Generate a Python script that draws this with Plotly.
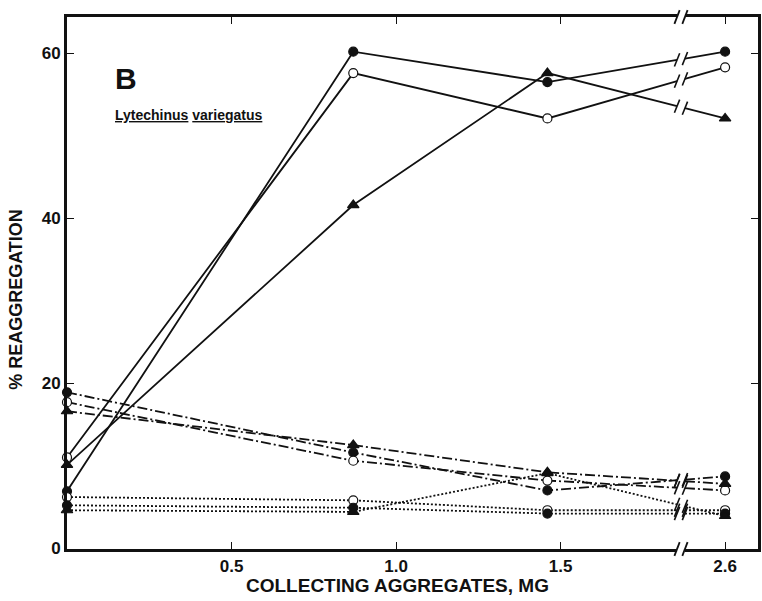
import plotly.graph_objects as go

# Amount of collecting aggregates (mg) at which reaggregation was measured
mg_values = [0.0, 0.87, 1.46, 2.6]

# % reaggregation, solid lines
solid_filled_circle = [6.9, 60.2, 56.5, 60.2]
solid_open_circle = [11.0, 57.6, 52.1, 58.3]
solid_triangle = [10.1, 41.6, 57.6, 52.1]

# % reaggregation, dash-dot lines
dashdot_filled_circle = [18.9, 11.6, 7.0, 8.7]
dashdot_open_circle = [17.7, 10.6, 8.2, 7.0]
dashdot_triangle = [16.6, 12.5, 9.2, 7.8]

# % reaggregation, dotted lines
dotted_open_circle = [6.2, 5.8, 4.6, 4.6]
dotted_filled_circle = [5.2, 4.9, 4.2, 4.2]
dotted_triangle = [4.6, 4.4, 9.1, 3.9]

x_tick_values = [0.5, 1.0, 1.5, 2.6]
y_tick_values = [0, 20, 40, 60]

# Broken x axis: the scale is linear up to the break, then jumps to 2.6
BREAK_POS = 1.866
BREAK_GAP = 0.012
AFTER_BREAK_START = 2.6
AFTER_BREAK_POS = 2.0


def axis_pos(v):
    if v <= 1.6:
        return v
    return AFTER_BREAK_POS + (v - AFTER_BREAK_START) * 0.5


FONT = "Liberation Sans"
BLACK = "#111111"
LINE_W = 1.8

series = [
    (solid_filled_circle, "solid", "circle"),
    (solid_open_circle, "solid", "circle-open"),
    (solid_triangle, "solid", "triangle-up"),
    (dashdot_filled_circle, "10px,3px,2px,3px", "circle"),
    (dashdot_open_circle, "10px,3px,2px,3px", "circle-open"),
    (dashdot_triangle, "10px,3px,2px,3px", "triangle-up"),
    (dotted_open_circle, "2px,2px", "circle-open"),
    (dotted_filled_circle, "2px,2px", "circle"),
    (dotted_triangle, "2px,2px", "triangle-up"),
]

fig = go.Figure()
shapes = []


def interp(x0, y0, x1, y1, x):
    return y0 + (y1 - y0) * (x - x0) / (x1 - x0)


SLASH_DX = 0.008
SLASH_DY = 0.8

for values, dash, symbol in series:
    xs = [axis_pos(v) for v in mg_values]
    # split the segment that crosses the axis break
    lx, ly = [], []
    for i, (x, y) in enumerate(zip(xs, values)):
        if i > 0 and xs[i - 1] < BREAK_POS < x:
            xa, xb = BREAK_POS - BREAK_GAP, BREAK_POS + BREAK_GAP
            ya = interp(xs[i - 1], values[i - 1], x, y, xa)
            yb = interp(xs[i - 1], values[i - 1], x, y, xb)
            lx += [xa, None, xb]
            ly += [ya, None, yb]
            for xm, ym in ((xa, ya), (xb, yb)):
                shapes.append(dict(type="line", xref="x", yref="y",
                                   x0=xm - SLASH_DX, y0=ym - SLASH_DY,
                                   x1=xm + SLASH_DX, y1=ym + SLASH_DY,
                                   line=dict(color=BLACK, width=1.6)))
        lx.append(x)
        ly.append(y)
    fig.add_trace(go.Scatter(
        x=lx, y=ly, mode="lines", showlegend=False, hoverinfo="skip",
        line=dict(color=BLACK, width=LINE_W, dash=dash),
    ))

for values, dash, symbol in series:
    xs = [axis_pos(v) for v in mg_values]
    is_open = symbol.endswith("open")
    fig.add_trace(go.Scatter(
        x=xs, y=values, mode="markers", showlegend=False, cliponaxis=False,
        marker=dict(
            symbol="circle" if is_open else symbol,
            size=10 if symbol.startswith("triangle") else 9,
            color="white" if is_open else BLACK,
            line=dict(color=BLACK, width=1.2),
        ),
    ))

# break marks on the bottom and top axis lines
for py in (0.0, 1.0):
    shapes.append(dict(type="line", xref="x", yref="paper",
                       x0=BREAK_POS - BREAK_GAP, x1=BREAK_POS + BREAK_GAP,
                       y0=py, y1=py, layer="above",
                       line=dict(color="white", width=6)))
    for xm in (BREAK_POS - BREAK_GAP, BREAK_POS + BREAK_GAP):
        shapes.append(dict(type="line", xref="x", yref="paper",
                           x0=xm - 0.008, y0=py - 0.013,
                           x1=xm + 0.008, y1=py + 0.013, layer="above",
                           line=dict(color=BLACK, width=1.8)))

fig.update_layout(
    width=762, height=601,
    margin=dict(l=67, r=1, t=17, b=52),
    paper_bgcolor="white", plot_bgcolor="white",
    shapes=shapes,
    xaxis=dict(
        range=[0, 2.1], showgrid=False, zeroline=False,
        showline=True, linewidth=3, linecolor=BLACK, mirror="ticks",
        ticks="inside", ticklen=7, tickwidth=1.2, tickcolor=BLACK,
        tickvals=[axis_pos(v) for v in x_tick_values],
        ticktext=[f"{v:.1f}" for v in x_tick_values],
        tickfont=dict(family=FONT, size=17, color=BLACK, weight="bold"),
    ),
    yaxis=dict(
        range=[-0.1, 64.4], showgrid=False, zeroline=False,
        showline=True, linewidth=3, linecolor=BLACK, mirror="ticks",
        ticks="inside", ticklen=7, tickwidth=1.2, tickcolor=BLACK,
        tickvals=y_tick_values,
        ticktext=[str(v) for v in y_tick_values],
        tickfont=dict(family=FONT, size=17, color=BLACK, weight="bold"),
    ),
    annotations=[
        dict(text="COLLECTING AGGREGATES, MG", xref="paper", yref="paper",
             x=0.478, y=-0.069, yanchor="middle", showarrow=False,
             font=dict(family=FONT, size=19, color=BLACK, weight="bold")),
        dict(text="% REAGGREGATION", xref="paper", yref="paper",
             x=-0.074, y=0.47, xanchor="center", textangle=-90, showarrow=False,
             font=dict(family=FONT, size=18, color=BLACK, weight="bold")),
        dict(text="B", xref="paper", yref="paper",
             x=0.066, y=0.884, xanchor="left", yanchor="middle", showarrow=False,
             font=dict(family=FONT, size=30, color=BLACK, weight="bold")),
        dict(text="<u>Lytechinus</u> <u>variegatus</u>", xref="paper", yref="paper",
             x=0.067, y=0.815, xanchor="left", yanchor="middle", showarrow=False,
             font=dict(family=FONT, size=14, color=BLACK, weight="bold")),
    ],
)

fig.write_html("out.html")
